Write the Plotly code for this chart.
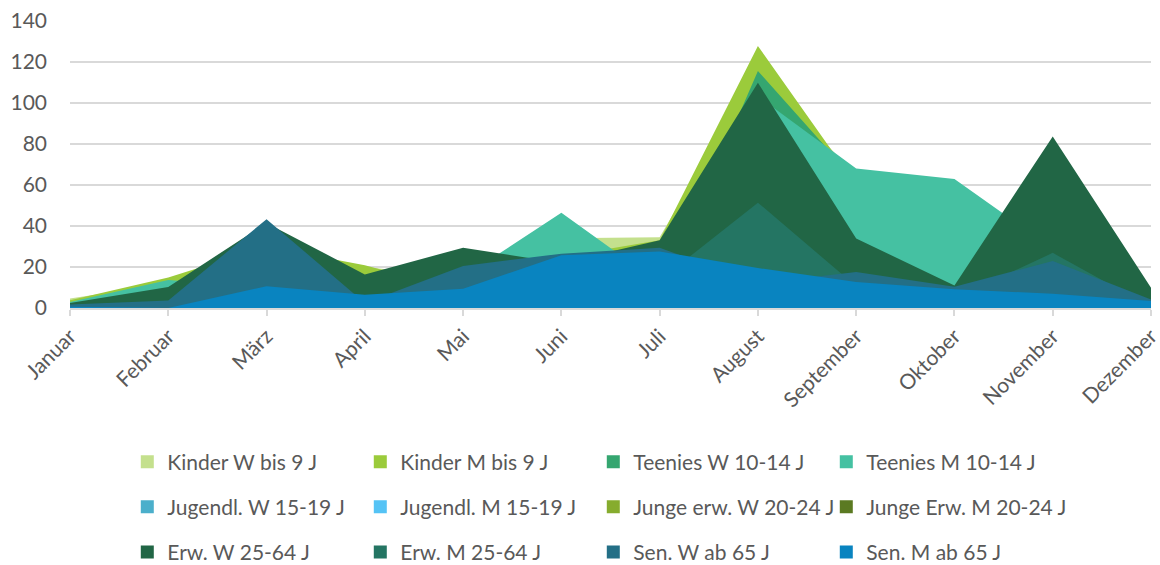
import plotly.graph_objects as go

months = ["Januar", "Februar", "März", "April", "Mai", "Juni", "Juli",
          "August", "September", "Oktober", "November", "Dezember"]

series_names = [
    "Kinder W bis 9 J", "Kinder M bis 9 J", "Teenies W 10-14 J", "Teenies M 10-14 J",
    "Jugendl. W 15-19 J", "Jugendl. M 15-19 J", "Junge erw. W 20-24 J", "Junge Erw. M 20-24 J",
    "Erw. W 25-64 J", "Erw. M 25-64 J", "Sen. W ab 65 J", "Sen. M ab 65 J",
]

kinder_w = [4.6, 12, 30, 20, 15, 34, 34.5, 117, 64, 20, 15, 2]
kinder_m = [3.8, 14.9, 30, 20.8, 8, 25, 33, 127.8, 60, 18, 12, 2]
teenies_w = [1, 5, 8, 5, 6, 10, 5, 115.6, 62, 20, 15, 2]
teenies_m = [2.9, 13.6, 10, 8, 15, 46.5, 12, 103.3, 68, 62.9, 29, 3]
jugendl_w = [0.5, 2, 5, 3, 4, 8, 6, 10, 5, 3, 4, 1]
jugendl_m = [0.5, 1, 3, 2, 3, 5, 4, 7, 4, 2, 3, 1]
junge_erw_w = [0.5, 2, 6, 4, 5, 9, 7, 15, 8, 4, 5, 1]
junge_erw_m = [0.5, 1, 4, 3, 4, 6, 5, 12, 6, 3, 4, 1]
erw_w = [2.4, 10.3, 41.5, 16.4, 29.4, 22, 33, 109.9, 33.9, 11, 83.7, 9.9]
erw_m = [1.5, 3, 10, 5, 8, 12, 13.5, 51.4, 10.6, 4.5, 26.9, 0.5]
sen_w = [1.7, 3.7, 43.3, 2.5, 20.5, 26.5, 29.4, 12, 17.6, 10.4, 22.9, 4.2]
sen_m = [0.6, 0, 10.6, 6.5, 9.4, 25.7, 27.6, 19.5, 12.7, 9.1, 7, 3.4]

series_values = [kinder_w, kinder_m, teenies_w, teenies_m, jugendl_w, jugendl_m,
                 junge_erw_w, junge_erw_m, erw_w, erw_m, sen_w, sen_m]

colors = ["#C4E08D", "#9BCB3B", "#35A670", "#45C1A2", "#4BAFCB", "#55C3F5",
          "#86AC2E", "#5B7A22", "#216645", "#247563", "#236F86", "#0984C0"]

y_ticks = [0, 20, 40, 60, 80, 100, 120, 140]

FONT = "Lato"
TXT = "#595959"

fig = go.Figure()

# area traces (back to front, overlapping, not stacked)
for name, vals, col in zip(series_names, series_values, colors):
    fig.add_trace(go.Scatter(
        x=months, y=vals, name=name, mode="none", fill="tozeroy",
        fillcolor=col, showlegend=False, hoverinfo="x+y+name",
    ))

# legend entries (square swatches), 3 rows of 4
legend_ids = ["legend", "legend2", "legend3"]
for i, (name, col) in enumerate(zip(series_names, colors)):
    fig.add_trace(go.Scatter(
        x=[None], y=[None], mode="markers", name=name,
        marker=dict(symbol="square", size=13, color=col, line=dict(width=0)),
        legend=legend_ids[i // 4], showlegend=True,
        legendwidth=188 if i % 4 < 3 else 240,
    ))

row_y = [-0.537, -0.694, -0.851]
legend_common = dict(
    orientation="h", x=0.053, xanchor="left", yanchor="middle",
    entrywidthmode="pixels", itemwidth=30,
    font=dict(family=FONT, size=21, color=TXT), bgcolor="rgba(0,0,0,0)",
    itemclick=False, itemdoubleclick=False,
)

fig.update_layout(
    width=1160, height=565,
    margin=dict(l=70, r=9, t=21, b=257, autoexpand=False),
    paper_bgcolor="white", plot_bgcolor="white",
    font=dict(family=FONT, size=20, color=TXT),
    xaxis=dict(
        type="category", categoryorder="array", categoryarray=months,
        range=[0, len(months) - 1], tickangle=-45, automargin=False,
        showgrid=False, showline=True, linecolor="#D9D9D9", linewidth=1.5,
        ticks="outside", ticklen=6, tickcolor="#D9D9D9", tickwidth=1.5,
        tickfont=dict(family=FONT, size=21, color=TXT), zeroline=False,
    ),
    yaxis=dict(
        range=[0, 140], tickvals=y_ticks, showgrid=True, gridcolor="#D9D9D9",
        gridwidth=1.5, zeroline=False, showline=False, ticks="", automargin=False,
        tickfont=dict(family=FONT, size=21, color=TXT), ticklabelstandoff=22,
    ),
    legend=dict(y=row_y[0], **legend_common),
    legend2=dict(y=row_y[1], **legend_common),
    legend3=dict(y=row_y[2], **legend_common),
)

fig.write_html(
    "out.html",
    config={"displayModeBar": False},
    post_script="document.body.style.margin='0';document.body.style.overflow='hidden';",
)
